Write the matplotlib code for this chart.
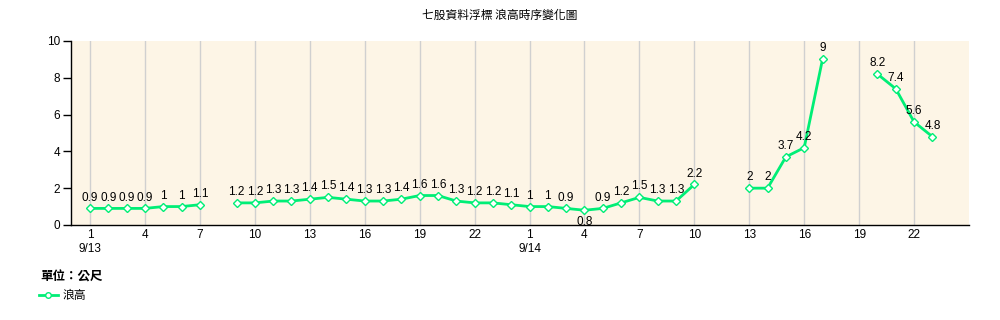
import numpy as np
import matplotlib
matplotlib.use("Agg")
import matplotlib.pyplot as plt
from matplotlib.lines import Line2D

plt.rcParams['font.family'] = ['Noto Sans CJK TC', 'DejaVu Sans']

title = "七股資料浮標 浪高時序變化圖"
unit_label = "單位：公尺"
series_name = "浪高"
dates = ["9/13", "9/14"]
hours_day1 = list(range(1, 25))
hours_day2 = list(range(1, 24))
wave_day1 = [0.9, 0.9, 0.9, 0.9, 1, 1, 1.1, None, 1.2, 1.2, 1.3, 1.3, 1.4, 1.5,
             1.4, 1.3, 1.3, 1.4, 1.6, 1.6, 1.3, 1.2, 1.2, 1.1]
wave_day2 = [1, 1, 0.9, 0.8, 0.9, 1.2, 1.5, 1.3, 1.3, 2.2, None, None, 2, 2, 3.7,
             4.2, 9, None, None, 8.2, 7.4, 5.6, 4.8]
yticks = [0, 2, 4, 6, 8, 10]

hours = hours_day1 + hours_day2
vals = np.array([np.nan if v is None else v for v in wave_day1 + wave_day2], dtype=float)
x = np.arange(len(vals))

fig = plt.figure(figsize=(10, 3.2), dpi=100)
ax = fig.add_axes([0.071, 0.297, 0.898, 0.575])
ax.set_facecolor("#FDF5E6")

green = "#00EE76"
ax.plot(x, vals, color=green, lw=2, marker="D", markersize=4,
        markerfacecolor="white", markeredgecolor=green, markeredgewidth=1, zorder=3)

numfont = dict(family=['Liberation Sans', 'DejaVu Sans'], fontsize=8.5)
for xi, v in zip(x, vals):
    if np.isnan(v):
        continue
    s = f"{v:g}"
    if v == 0.8:
        ax.annotate(s, (xi, v), xytext=(0, -4), textcoords="offset points",
                    ha="center", va="top", color="black", **numfont)
    else:
        ax.annotate(s, (xi, v), xytext=(0, 3.5), textcoords="offset points",
                    ha="center", va="bottom", color="black", **numfont)

ax.set_xlim(-1.04, 48)
ax.set_ylim(0, 10)
ax.set_yticks(yticks)
ax.set_yticklabels([str(t) for t in yticks], **numfont)

tick_idx = list(range(0, len(vals), 3))
labels = []
for i in tick_idx:
    lab = str(hours[i])
    if i == 0:
        lab += "\n" + dates[0]
    elif i == len(hours_day1):
        lab += "\n" + dates[1]
    labels.append(lab)
ax.set_xticks(tick_idx)
ax.set_xticklabels(labels, linespacing=1.25, va="top", **numfont)
ax.xaxis.grid(True, color="#D0D0D0", lw=1)
ax.set_axisbelow(True)
ax.tick_params(axis="y", length=6, width=1, color="black", pad=2)
ax.tick_params(axis="x", length=0, pad=3)

for sp in ["top", "right"]:
    ax.spines[sp].set_visible(False)
for sp in ["left", "bottom"]:
    ax.spines[sp].set_color("black")
    ax.spines[sp].set_linewidth(1)

fig.text(0.5, 0.953, title, ha="center", va="center", fontsize=8.5, color="black")
fig.text(0.04, 0.135, unit_label, ha="left", va="center", fontsize=9,
         fontweight="bold", color="black")
handle = Line2D([], [], color=green, lw=2, marker="o", markersize=4,
                markerfacecolor="white", markeredgecolor=green)
fig.legend([handle], [series_name], loc="center left", bbox_to_anchor=(0.039, 0.075),
           frameon=False, fontsize=8.5, handlelength=1.6, handletextpad=0.4,
           borderaxespad=0, borderpad=0)

fig.savefig("out.png", dpi=100)
